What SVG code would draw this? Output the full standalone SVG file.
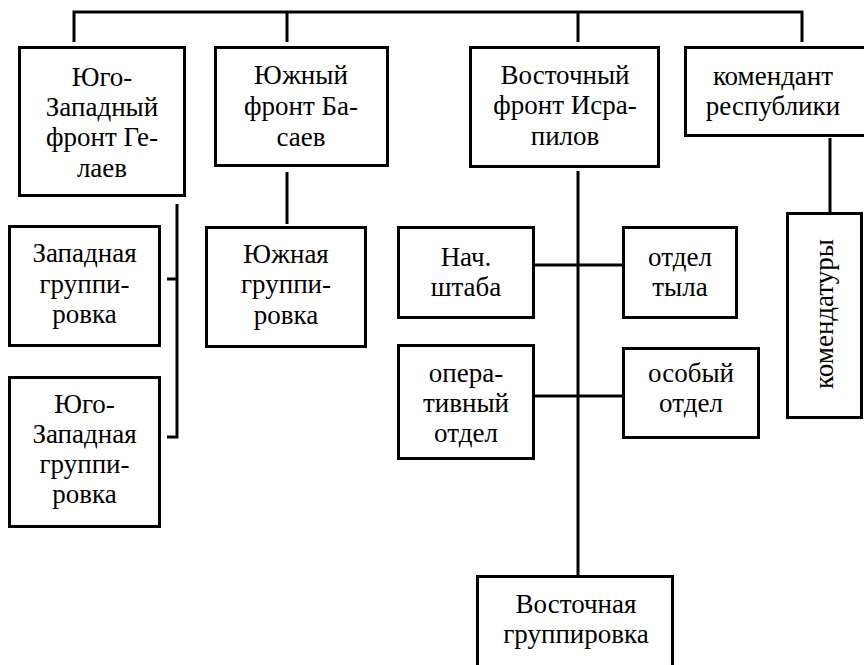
<svg xmlns="http://www.w3.org/2000/svg" width="864" height="665" viewBox="0 0 864 665">
<style>
  .box { fill: #fff; stroke: #000; stroke-width: 3; }
  .ln { stroke: #000; stroke-width: 3; fill: none; }
  text { font-family: 'Liberation Serif', 'Times New Roman', Tinos, 'Noto Serif', 'DejaVu Serif', FreeSerif, Times, serif; font-size: 27px; fill: #000; text-anchor: middle; }
</style>
<rect width="864" height="665" fill="#fff"/>
<g id="connectors">
  <path class="ln" d="M74,42 V12 H802 V42"/>
  <path class="ln" d="M287,12 V42"/>
  <path class="ln" d="M578,12 V42"/>
  <path class="ln" d="M177,204 V437 H167 M167,279 H177"/>
  <path class="ln" d="M287,172 V224"/>
  <path class="ln" d="M578,171 V575"/>
  <path class="ln" d="M534,265 H622"/>
  <path class="ln" d="M534,396 H622"/>
  <path class="ln" d="M830,138 V212"/>
</g>
<g id="n1">
  <rect class="box" x="19.5" y="47.5" width="165" height="148"/>
  <text x="102" y="86">Юго-</text>
  <text x="102" y="116">Западный</text>
  <text x="102" y="146">фронт Ге-</text>
  <text x="102" y="177">лаев</text>
</g>
<g id="n2">
  <rect class="box" x="215.5" y="47.5" width="172" height="118"/>
  <text x="301" y="84">Южный</text>
  <text x="301" y="115">фронт Ба-</text>
  <text x="301" y="146">саев</text>
</g>
<g id="n3">
  <rect class="box" x="470.5" y="47.5" width="188" height="119"/>
  <text x="565" y="84">Восточный</text>
  <text x="565" y="114">фронт Исра-</text>
  <text x="565" y="145">пилов</text>
</g>
<g id="n4">
  <rect class="box" x="685.5" y="47.5" width="190" height="88"/>
  <text x="773" y="85">комендант</text>
  <text x="773" y="115">республики</text>
</g>
<g id="n5">
  <rect class="box" x="9.5" y="226.5" width="150" height="119"/>
  <text x="84.5" y="262">Западная</text>
  <text x="84.5" y="293">группи-</text>
  <text x="84.5" y="323">ровка</text>
</g>
<g id="n6">
  <rect class="box" x="9.5" y="377.5" width="150" height="149"/>
  <text x="84.5" y="413">Юго-</text>
  <text x="84.5" y="443">Западная</text>
  <text x="84.5" y="473">группи-</text>
  <text x="84.5" y="503">ровка</text>
</g>
<g id="n7">
  <rect class="box" x="206.5" y="227.5" width="159" height="119"/>
  <text x="286" y="263">Южная</text>
  <text x="286" y="293">группи-</text>
  <text x="286" y="324">ровка</text>
</g>
<g id="n8">
  <rect class="box" x="398.5" y="227.5" width="135" height="90"/>
  <text x="466" y="266">Нач.</text>
  <text x="466" y="296">штаба</text>
</g>
<g id="n9">
  <rect class="box" x="623.5" y="227.5" width="113" height="90"/>
  <text x="680" y="266">отдел</text>
  <text x="680" y="296">тыла</text>
</g>
<g id="n10">
  <rect class="box" x="398.5" y="345.5" width="135" height="113"/>
  <text x="466" y="382">опера-</text>
  <text x="466" y="412">тивный</text>
  <text x="466" y="442">отдел</text>
</g>
<g id="n11">
  <rect class="box" x="623.5" y="348.5" width="135" height="89"/>
  <text x="691" y="382">особый</text>
  <text x="691" y="412">отдел</text>
</g>
<g id="n12">
  <rect class="box" x="787.5" y="213.5" width="74" height="204"/>
  <text transform="translate(833,314) rotate(-90)" x="0" y="0">комендатуры</text>
</g>
<g id="n13">
  <rect class="box" x="477.5" y="576.5" width="195" height="100"/>
  <text x="576" y="613">Восточная</text>
  <text x="576" y="643">группировка</text>
</g>
</svg>
